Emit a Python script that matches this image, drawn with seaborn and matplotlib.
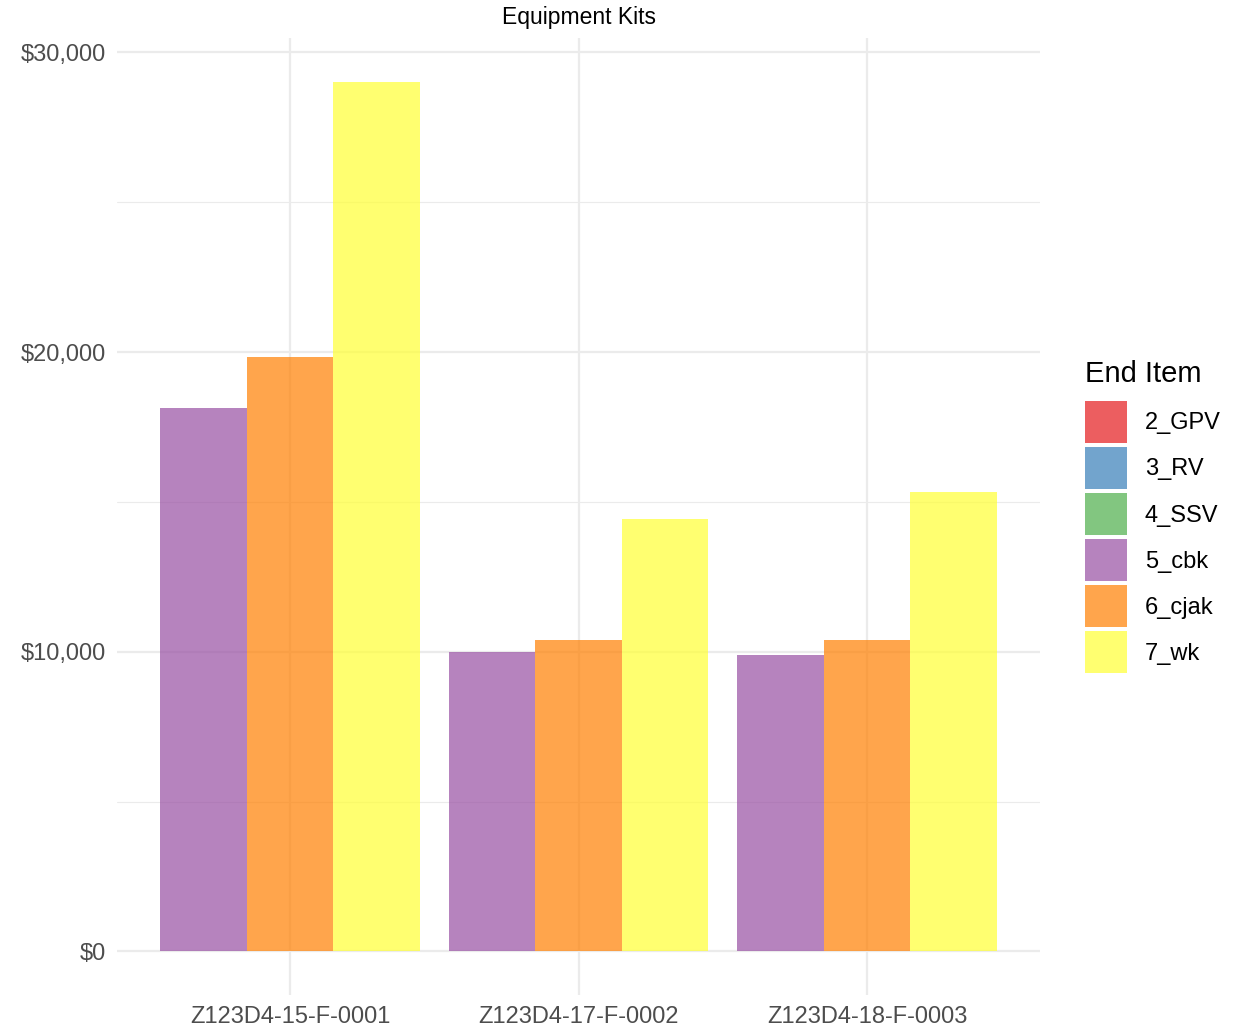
import matplotlib
matplotlib.use("Agg")
import matplotlib.pyplot as plt
from matplotlib.patches import Patch
from matplotlib.ticker import FuncFormatter, MultipleLocator
import pandas as pd
import seaborn as sns

kits = ["Z123D4-15-F-0001", "Z123D4-17-F-0002", "Z123D4-18-F-0003"]
end_items = ["2_GPV", "3_RV", "4_SSV", "5_cbk", "6_cjak", "7_wk"]
item_colors = ["#E41A1C", "#377EB8", "#4DAF4A", "#984EA3", "#FF7F00", "#FFFF33"]

# costs per kit (only the three kit end items have values)
cbk = [18150, 10010, 9910]
cjak = [19850, 10410, 10380]
wk = [29030, 14430, 15330]

df = pd.DataFrame({
    "kit": kits * 3,
    "item": ["5_cbk"] * 3 + ["6_cjak"] * 3 + ["7_wk"] * 3,
    "cost": cbk + cjak + wk,
})
present = ["5_cbk", "6_cjak", "7_wk"]
pal = dict(zip(end_items, item_colors))

sns.set_theme(style="white")
plt.rcParams["font.family"] = ["Liberation Sans", "DejaVu Sans"]

fig = plt.figure(figsize=(12.45, 10.3), dpi=100)
ax = fig.add_axes([117 / 1245, 1 - 995 / 1030, (1040 - 117) / 1245, (995 - 38) / 1030])

sns.barplot(data=df, x="kit", y="cost", hue="item", hue_order=present,
            order=kits, palette=pal, width=0.9, alpha=0.7, saturation=1,
            linewidth=0, legend=False, ax=ax)

ax.set_xlim(-0.6, 2.6)
ax.set_ylim(-1452, 30482)
ax.yaxis.set_major_locator(MultipleLocator(10000))
ax.yaxis.set_minor_locator(MultipleLocator(5000))
ax.yaxis.set_major_formatter(FuncFormatter(lambda v, p: f"${v:,.0f}"))
ax.set_axisbelow(True)
ax.grid(which="major", color="#EBEBEB", linewidth=1.6)
ax.grid(which="minor", axis="y", color="#EBEBEB", linewidth=0.8)
for s in ax.spines.values():
    s.set_visible(False)
ax.tick_params(axis="both", which="both", length=0, labelsize=17,
               labelcolor="#4D4D4D", pad=8)
ax.set_xlabel("")
ax.set_ylabel("")
ax.set_title("Equipment Kits", fontsize=16.5, color="black", pad=10)

handles = [Patch(facecolor=c, alpha=0.7, edgecolor="none") for c in item_colors]
leg = fig.legend(handles, end_items, title="End Item", loc="upper left",
                 bbox_to_anchor=(1085 / 1245, 1 - 360 / 1030), frameon=False,
                 fontsize=17, title_fontsize=21, handlelength=1.78,
                 handleheight=2.36, labelspacing=0.17, handletextpad=0.76,
                 borderpad=0, borderaxespad=0, labelcolor="black")
leg.get_title().set_color("black")
leg._legend_box.align = "left"
leg._legend_box.sep = 9.5  # a bit more room under the title

fig.savefig("out.png", dpi=100)
